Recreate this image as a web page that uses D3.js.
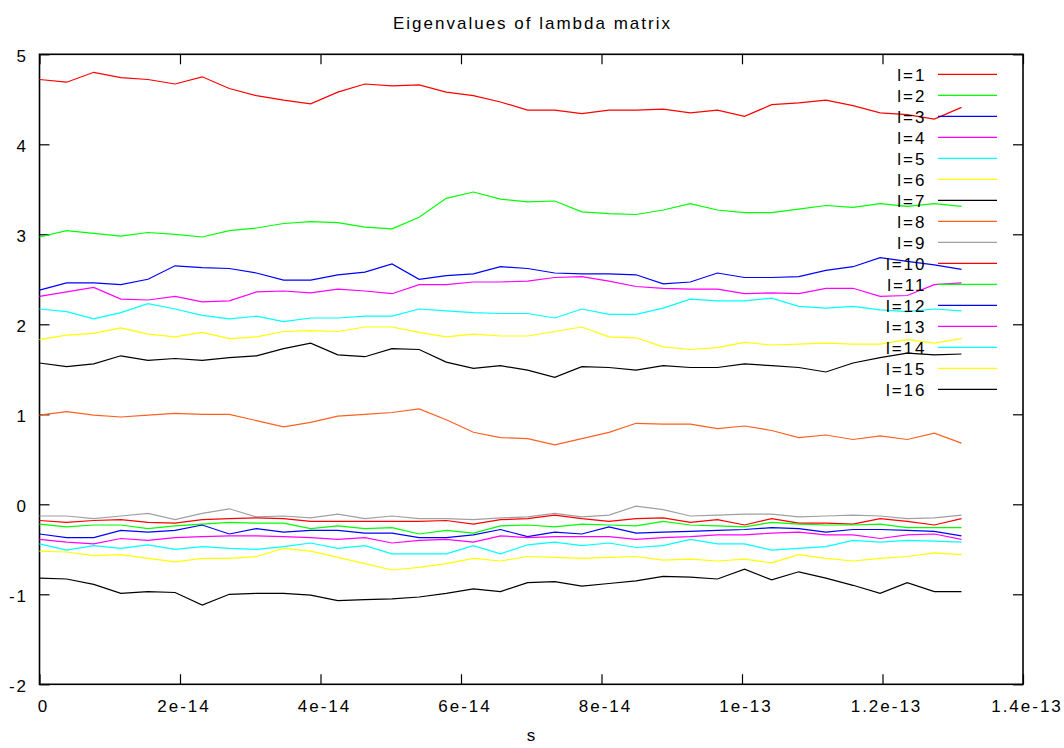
<!DOCTYPE html>
<html>
<head>
<meta charset="utf-8">
<script src="https://cdn.jsdelivr.net/npm/d3@7"></script>
<style>
  html, body { margin: 0; padding: 0; background: #fff; }
  svg { display: block; }
  text { font-family: "Liberation Sans", Arial, Helvetica, sans-serif; font-size: 17px; letter-spacing: 2px; fill: #000; }
</style>
</head>
<body>
<svg id="chart" width="1064" height="748"></svg>
<script>
const title = "Eigenvalues of lambda matrix";
const xLabel = "s";
const xTickValues = [0, 2e-14, 4e-14, 6e-14, 8e-14, 1e-13, 1.2e-13, 1.4e-13];
const xTickLabels = ["0", "2e-14", "4e-14", "6e-14", "8e-14", "1e-13", "1.2e-13", "1.4e-13"];
const yTickValues = [-2, -1, 0, 1, 2, 3, 4, 5];
const yTickLabels = ["-2", "-1", "0", "1", "2", "3", "4", "5"];

const sValues = [0, 3.86e-15, 7.72e-15, 1.158e-14, 1.544e-14, 1.93e-14, 2.316e-14, 2.702e-14, 3.088e-14,
  3.474e-14, 3.86e-14, 4.246e-14, 4.632e-14, 5.018e-14, 5.404e-14, 5.79e-14, 6.176e-14, 6.562e-14,
  6.948e-14, 7.334e-14, 7.72e-14, 8.106e-14, 8.492e-14, 8.878e-14, 9.264e-14, 9.65e-14, 1.0036e-13,
  1.0422e-13, 1.0808e-13, 1.1194e-13, 1.158e-13, 1.1966e-13, 1.2352e-13, 1.2738e-13, 1.3124e-13];

const seriesNames = ["l=1","l=2","l=3","l=4","l=5","l=6","l=7","l=8","l=9","l=10","l=11","l=12","l=13","l=14","l=15","l=16"];
const seriesColors = ["#ff0000","#00ff00","#0000ff","#ff00ff","#00ffff","#ffff00","#000000","#ff6020",
                      "#a0a0a0","#ff0000","#00ff00","#0000ff","#ff00ff","#00ffff","#ffff00","#000000"];

const l1 = [4.72,4.69,4.80,4.74,4.72,4.67,4.75,4.62,4.54,4.49,4.45,4.58,4.67,4.65,4.66,4.58,4.54,4.47,4.38,4.38,4.34,4.38,4.38,4.39,4.35,4.38,4.31,4.44,4.46,4.49,4.43,4.35,4.33,4.28,4.41];
const l2 = [2.97,3.04,3.01,2.98,3.02,3.00,2.97,3.04,3.07,3.12,3.14,3.13,3.08,3.06,3.19,3.40,3.47,3.39,3.36,3.37,3.25,3.23,3.22,3.27,3.34,3.27,3.24,3.24,3.28,3.32,3.30,3.34,3.31,3.34,3.31];
const l3 = [2.38,2.46,2.46,2.44,2.50,2.65,2.63,2.62,2.57,2.49,2.49,2.55,2.58,2.67,2.50,2.54,2.56,2.64,2.62,2.57,2.56,2.56,2.55,2.45,2.47,2.57,2.52,2.52,2.53,2.60,2.64,2.74,2.70,2.66,2.61];
const l4 = [2.31,2.36,2.41,2.28,2.27,2.31,2.25,2.26,2.36,2.37,2.35,2.39,2.37,2.34,2.44,2.44,2.47,2.47,2.48,2.52,2.53,2.48,2.42,2.40,2.39,2.39,2.34,2.35,2.34,2.40,2.40,2.31,2.32,2.44,2.46];
const l5 = [2.17,2.14,2.06,2.13,2.23,2.17,2.10,2.06,2.09,2.03,2.07,2.07,2.09,2.09,2.17,2.15,2.13,2.12,2.12,2.07,2.17,2.11,2.11,2.18,2.28,2.26,2.26,2.29,2.20,2.18,2.20,2.16,2.14,2.17,2.15];
const l6 = [1.83,1.88,1.90,1.96,1.89,1.86,1.91,1.84,1.86,1.92,1.93,1.92,1.97,1.97,1.91,1.86,1.89,1.87,1.87,1.92,1.97,1.86,1.85,1.75,1.72,1.74,1.80,1.77,1.78,1.79,1.78,1.78,1.83,1.79,1.84];
const l7 = [1.57,1.53,1.56,1.65,1.60,1.62,1.60,1.63,1.65,1.73,1.79,1.66,1.64,1.73,1.72,1.58,1.51,1.54,1.49,1.41,1.53,1.52,1.49,1.54,1.52,1.52,1.56,1.54,1.52,1.47,1.57,1.63,1.68,1.66,1.67];
const l8 = [0.99,1.03,0.99,0.97,0.99,1.01,1.00,1.00,0.93,0.86,0.91,0.98,1.00,1.02,1.06,0.94,0.80,0.74,0.73,0.66,0.73,0.80,0.90,0.89,0.89,0.84,0.87,0.82,0.74,0.77,0.72,0.76,0.72,0.79,0.68];
const l9 = [-0.13,-0.13,-0.16,-0.13,-0.10,-0.17,-0.10,-0.05,-0.14,-0.13,-0.15,-0.11,-0.16,-0.13,-0.16,-0.16,-0.17,-0.15,-0.14,-0.10,-0.14,-0.12,-0.02,-0.06,-0.13,-0.12,-0.11,-0.11,-0.14,-0.13,-0.12,-0.13,-0.16,-0.15,-0.12];
const l10 = [-0.18,-0.20,-0.18,-0.17,-0.20,-0.21,-0.17,-0.16,-0.15,-0.16,-0.19,-0.19,-0.19,-0.19,-0.19,-0.18,-0.22,-0.17,-0.16,-0.12,-0.16,-0.19,-0.16,-0.15,-0.20,-0.17,-0.23,-0.16,-0.21,-0.21,-0.22,-0.16,-0.19,-0.23,-0.16];
const l11 = [-0.22,-0.25,-0.23,-0.23,-0.27,-0.24,-0.22,-0.20,-0.21,-0.21,-0.27,-0.24,-0.27,-0.26,-0.33,-0.29,-0.32,-0.24,-0.23,-0.25,-0.22,-0.23,-0.24,-0.19,-0.23,-0.24,-0.25,-0.20,-0.22,-0.23,-0.23,-0.22,-0.26,-0.26,-0.26];
const l12 = [-0.33,-0.37,-0.37,-0.29,-0.31,-0.29,-0.23,-0.33,-0.27,-0.31,-0.29,-0.29,-0.32,-0.32,-0.37,-0.37,-0.34,-0.28,-0.36,-0.31,-0.33,-0.25,-0.32,-0.31,-0.30,-0.29,-0.28,-0.26,-0.27,-0.31,-0.28,-0.28,-0.29,-0.30,-0.35];
const l13 = [-0.39,-0.42,-0.44,-0.38,-0.40,-0.37,-0.36,-0.35,-0.35,-0.36,-0.37,-0.39,-0.37,-0.43,-0.40,-0.39,-0.42,-0.35,-0.37,-0.36,-0.36,-0.36,-0.39,-0.37,-0.36,-0.34,-0.34,-0.32,-0.31,-0.34,-0.34,-0.38,-0.34,-0.33,-0.39];
const l14 = [-0.44,-0.51,-0.46,-0.49,-0.45,-0.50,-0.47,-0.49,-0.50,-0.47,-0.43,-0.49,-0.46,-0.55,-0.55,-0.55,-0.46,-0.55,-0.45,-0.42,-0.46,-0.43,-0.48,-0.46,-0.39,-0.44,-0.44,-0.51,-0.49,-0.47,-0.40,-0.42,-0.40,-0.41,-0.42];
const l15 = [-0.52,-0.53,-0.57,-0.56,-0.60,-0.64,-0.60,-0.60,-0.58,-0.49,-0.52,-0.59,-0.66,-0.73,-0.70,-0.66,-0.60,-0.63,-0.58,-0.59,-0.60,-0.59,-0.58,-0.62,-0.61,-0.63,-0.61,-0.65,-0.56,-0.60,-0.63,-0.60,-0.58,-0.54,-0.56];
const l16 = [-0.82,-0.83,-0.89,-0.99,-0.97,-0.98,-1.12,-1.00,-0.99,-0.99,-1.01,-1.07,-1.06,-1.05,-1.03,-0.99,-0.94,-0.97,-0.87,-0.86,-0.91,-0.88,-0.85,-0.80,-0.81,-0.83,-0.72,-0.84,-0.75,-0.82,-0.90,-0.99,-0.87,-0.97,-0.97];

const allSeries = [l1,l2,l3,l4,l5,l6,l7,l8,l9,l10,l11,l12,l13,l14,l15,l16];

const svg = d3.select("#chart");
const plotLeft = 39.5, plotRight = 1023, plotTop = 54.3, plotBottom = 684.3;

const x = d3.scaleLinear().domain([0, 1.4e-13]).range([plotLeft, plotRight]);
const y = d3.scaleLinear().domain([-2, 5]).range([plotBottom, plotTop]);

function styleAxis(g) {
  g.select(".domain").remove();
  g.selectAll(".tick line").attr("stroke", "#000").attr("stroke-width", 1.2);
  g.attr("font-family", null).attr("font-size", null);
}
svg.append("g").attr("transform", `translate(${plotLeft},0)`)
  .call(d3.axisLeft(y).tickValues(yTickValues).tickSizeInner(-10).tickSizeOuter(0).tickPadding(11.5)
    .tickFormat((d, i) => yTickLabels[i]))
  .call(styleAxis)
  .call(g => g.selectAll(".tick text").attr("dy", 7.5).attr("fill", "#000"));
svg.append("g").attr("transform", `translate(${plotRight},0)`)
  .call(d3.axisRight(y).tickValues(yTickValues).tickSizeInner(-10).tickSizeOuter(0).tickFormat(""))
  .call(styleAxis);
svg.append("g").attr("transform", `translate(0,${plotBottom})`)
  .call(d3.axisBottom(x).tickValues(xTickValues).tickSizeInner(-10).tickSizeOuter(0).tickPadding(15.6)
    .tickFormat((d, i) => xTickLabels[i]))
  .call(styleAxis)
  .call(g => g.selectAll(".tick text").attr("dx", 3.5).attr("fill", "#000"));
svg.append("g").attr("transform", `translate(0,${plotTop})`)
  .call(d3.axisTop(x).tickValues(xTickValues).tickSizeInner(-10).tickSizeOuter(0).tickFormat(""))
  .call(styleAxis);

svg.append("rect")
  .attr("x", plotLeft).attr("y", plotTop)
  .attr("width", plotRight - plotLeft).attr("height", plotBottom - plotTop)
  .attr("fill", "none").attr("stroke", "#000").attr("stroke-width", 1.6);

svg.append("text").attr("x", 532.5).attr("y", 29).attr("text-anchor", "middle").text(title);
svg.append("text").attr("x", 532).attr("y", 740.5).attr("text-anchor", "middle").text(xLabel);

const line = d3.line().x((d, i) => x(sValues[i])).y(d => y(d));
const legendRow0 = 74.3, legendStep = 21;
allSeries.forEach((vals, k) => {
  const ry = legendRow0 + k * legendStep;
  svg.append("text").attr("x", 926.5).attr("y", ry + 6.8).attr("text-anchor", "end").text(seriesNames[k]);
  svg.append("line").attr("x1", 938).attr("x2", 997).attr("y1", ry).attr("y2", ry)
    .attr("stroke", seriesColors[k]).attr("stroke-width", 1.2);
  svg.append("path").datum(vals).attr("d", line)
    .attr("fill", "none").attr("stroke", seriesColors[k]).attr("stroke-width", 1.2);
});
</script>
</body>
</html>
